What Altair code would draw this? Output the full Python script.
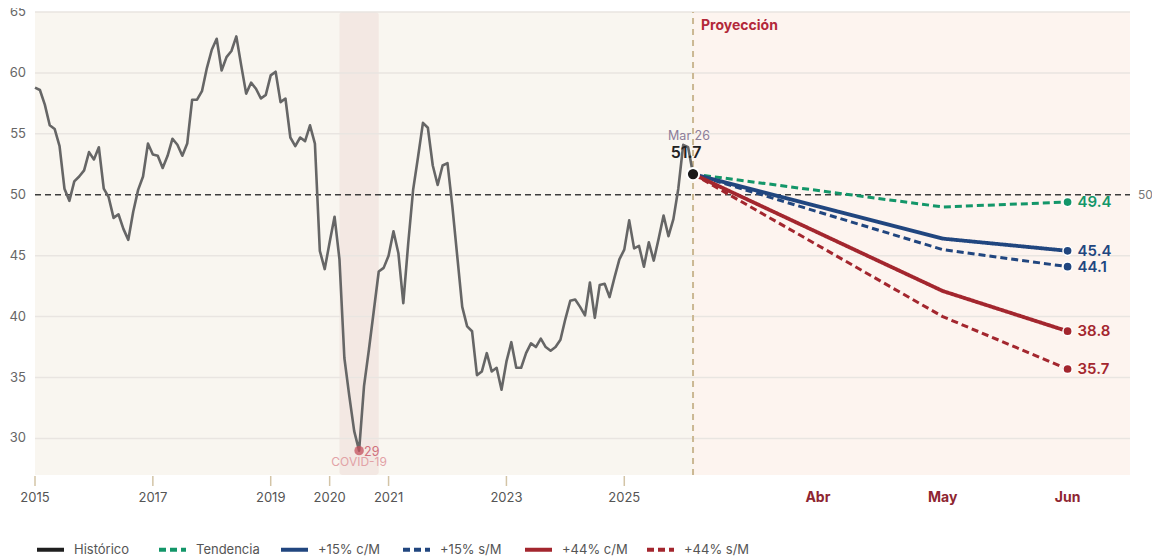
import altair as alt
import pandas as pd

# ---------------- data ----------------
FIRST_YEAR = 2015
# monthly index, Jan 2015 .. Mar 2026
hist_values = [
    58.8, 58.6, 57.4, 55.7, 55.4, 54.0, 50.5, 49.5, 51.1, 51.5, 52.0, 53.5,   # 2015
    52.9, 53.9, 50.5, 49.8, 48.1, 48.4, 47.2, 46.3, 48.6, 50.4, 51.5, 54.2,   # 2016
    53.3, 53.2, 52.2, 53.2, 54.6, 54.1, 53.2, 54.2, 57.8, 57.8, 58.5, 60.4,   # 2017
    61.9, 62.8, 60.2, 61.3, 61.8, 63.0, 60.6, 58.3, 59.2, 58.7, 57.9, 58.2,   # 2018
    59.8, 60.1, 57.6, 57.9, 54.7, 54.0, 54.7, 54.4, 55.7, 54.2, 45.4, 43.9,   # 2019
    46.1, 48.2, 44.7, 36.6, 33.5, 30.6, 29.0, 34.3, 37.3, 40.5, 43.7, 44.0,   # 2020
    45.0, 47.0, 45.2, 41.1, 46.0, 50.4, 53.1, 55.9, 55.5, 52.4, 50.8, 52.4,   # 2021
    52.6, 49.0, 44.9, 40.8, 39.2, 38.8, 35.2, 35.5, 37.0, 35.5, 35.8, 34.0,   # 2022
    36.3, 37.9, 35.8, 35.8, 37.0, 37.8, 37.5, 38.2, 37.5, 37.2, 37.5, 38.1,   # 2023
    39.8, 41.3, 41.4, 40.8, 40.1, 42.8, 39.9, 42.6, 42.7, 41.6, 43.2, 44.7,   # 2024
    45.5, 47.9, 45.6, 45.8, 44.1, 46.1, 44.6, 46.4, 48.3, 46.6, 48.0, 50.5,   # 2025
    54.1, 53.9, 51.7,                                                         # 2026
]
last_tag = "Mar 26"

proj_series = ["Tendencia", "+15% c/M", "+15% s/M", "+44% c/M", "+44% s/M"]
proj_month_names = ["Mar", "Abr", "May", "Jun"]
proj_month_idx = [0, 2, 3]          # months (after Mar 26) that carry values
proj_may = [49.0, 46.4, 45.5, 42.1, 40.0]
proj_jun = [49.4, 45.4, 44.1, 38.8, 35.7]

series_names = ["Histórico"] + proj_series
series_colors = ["#1f1f1f", "#139669", "#21467f", "#21467f", "#a3262e", "#a3262e"]
series_dashed = [False, True, False, True, False, True]

axis_years = [2015, 2017, 2019, 2020, 2021, 2023, 2025]
y_ticks = [30, 35, 40, 45, 50, 55, 60, 65]
Y_MIN, Y_MAX = 27, 65
THRESHOLD = 50
covid_from = (2020, 3)
covid_to = (2020, 11)
covid_label = "COVID-19"
proj_label = "Proyección"

# ---------------- x scale helpers ----------------
PROJ_MONTH = 125 / 59        # one projection month, in historical-year units
n = len(hist_values)
t_last = (n - 1) / 12
X_MAX = t_last + 3.5 * PROJ_MONTH


def t_of(year, month):
    return (year - FIRST_YEAR) + (month - 1) / 12


def t_proj(k):
    return t_last + k * PROJ_MONTH


hist_df = pd.DataFrame({"t": [i / 12 for i in range(n)], "v": hist_values})
last_v = hist_values[-1]

rows = []
for s, vm, vj in zip(proj_series, proj_may, proj_jun):
    for k, v in zip(proj_month_idx, [last_v, vm, vj]):
        rows.append({"s": s, "t": t_proj(k), "v": v})
proj_df = pd.DataFrame(rows)
dashed_set = [s for s, d in zip(series_names, series_dashed) if d]
solid_df = proj_df[~proj_df["s"].isin(dashed_set)]
dash_df = proj_df[proj_df["s"].isin(dashed_set)]
end_df = pd.DataFrame({"s": proj_series, "t": [t_proj(3)] * len(proj_series), "v": proj_jun})
end_df["lab"] = end_df["v"].map(lambda x: f"{x:.1f}")

month_df = pd.DataFrame({"t": [t_proj(k) for k in (1, 2, 3)], "m": proj_month_names[1:]})
year_df = pd.DataFrame({"t": [t_of(y, 1) for y in axis_years], "m": [str(y) for y in axis_years]})
ytick_df = pd.DataFrame({"v": y_ticks, "lab": [str(v) for v in y_ticks]})

imin = min(range(n), key=lambda i: hist_values[i])
covid_df = pd.DataFrame({"t": [imin / 12], "v": [hist_values[imin]],
                         "lab": [f"{hist_values[imin]:g}"], "name": [covid_label]})
last_df = pd.DataFrame({"t": [t_last], "v": [last_v], "tag": [last_tag], "lab": [f"{last_v:.1f}"]})

FONT = "Inter"
xscale = alt.Scale(domain=[0, X_MAX], nice=False, zero=False)
yscale = alt.Scale(domain=[Y_MIN, Y_MAX], nice=False, zero=False)


def X(field="t"):
    return alt.X(field, type="quantitative", scale=xscale, axis=None)


def Y(field="v"):
    return alt.Y(field, type="quantitative", scale=yscale, axis=None)


def XD(val):
    return alt.X(datum=val, type="quantitative", scale=xscale, axis=None)


def YD(val):
    return alt.Y(datum=val, type="quantitative", scale=yscale, axis=None)


one = pd.DataFrame({"a": [0]})

# backgrounds
bg_hist = alt.Chart(one).mark_rect(color="#f9f6f0").encode(
    x=XD(0), x2=alt.X2(datum=t_last), y=YD(Y_MIN), y2=alt.Y2(datum=Y_MAX))
bg_proj = alt.Chart(one).mark_rect(color="#fdf4ef").encode(
    x=XD(t_last), x2=alt.X2(datum=X_MAX), y=YD(Y_MIN), y2=alt.Y2(datum=Y_MAX))
bg_covid = alt.Chart(one).mark_rect(color="#f3e8e3", cornerRadius=3).encode(
    x=XD(t_of(*covid_from)), x2=alt.X2(datum=t_of(*covid_to)), y=YD(Y_MIN), y2=alt.Y2(datum=Y_MAX))

# axis pieces (grid, labels, ticks)
grid_df = ytick_df[ytick_df["v"] != THRESHOLD]
grid = alt.Chart(grid_df).mark_rule(color="#e9e5e1", strokeWidth=1.5).encode(
    y=Y("v"), x=XD(0), x2=alt.X2(datum=X_MAX))
ylabels = alt.Chart(ytick_df).mark_text(align="right", baseline="middle", dx=-9, fontSize=13,
                                        font=FONT, color="#666666").encode(
    y=Y("v"), x=XD(0), text="lab:N")
xticks = alt.Chart(year_df).mark_tick(orient="vertical", size=10, thickness=1.5, color="#d3c4a6",
                                      yOffset=6, opacity=1).encode(x=X(), y=YD(Y_MIN))
xlabels = alt.Chart(year_df).mark_text(baseline="middle", dy=23, fontSize=13, font=FONT,
                                       color="#555555").encode(x=X(), y=YD(Y_MIN), text="m:N")
month_txt = alt.Chart(month_df).mark_text(baseline="middle", dy=23, fontSize=14, fontWeight="bold",
                                          font=FONT, color="#8e2531").encode(
    x=X(), y=YD(Y_MIN), text="m:N")

thr = alt.Chart(one).mark_rule(color="#3d3d3d", strokeDash=[6, 4], strokeWidth=1.5).encode(
    y=YD(THRESHOLD), x=XD(0), x2=alt.X2(datum=X_MAX))
thr_lab = alt.Chart(one).mark_text(align="left", dx=8, fontSize=12, font=FONT, color="#777777").encode(
    y=YD(THRESHOLD), x=XD(X_MAX), text=alt.value(str(THRESHOLD)))
vline = alt.Chart(one).mark_rule(color="#cbb893", strokeDash=[6, 5], strokeWidth=2).encode(
    x=XD(t_last), y=YD(Y_MIN), y2=alt.Y2(datum=Y_MAX))
proj_text = alt.Chart(one).mark_text(align="left", baseline="middle", dx=8, dy=14, fontSize=14,
                                     fontWeight="bold", font=FONT, color="#b3283a").encode(
    x=XD(t_last), y=YD(Y_MAX), text=alt.value(proj_label))

hist_line = alt.Chart(hist_df).mark_line(color="#666666", strokeWidth=2.6, strokeJoin="round").encode(
    x=X(), y=Y())

leg = alt.Legend(title=None, orient="none", legendX=0, legendY=522, direction="horizontal",
                 columns=6, gridAlign="all", columnPadding=11, symbolType="stroke",
                 symbolSize=729, symbolStrokeWidth=4, labelFont=FONT, labelFontSize=13,
                 labelColor="#555555", labelOffset=8, padding=0)
color_scale = alt.Scale(domain=series_names, range=series_colors)
dash_scale = alt.Scale(domain=series_names,
                       range=[[7, 4] if d else [1, 0] for d in series_dashed])


def proj_layer(df, width):
    return alt.Chart(df).mark_line(strokeWidth=width, strokeJoin="round").encode(
        x=X(), y=Y(),
        color=alt.Color("s:N", scale=color_scale, legend=leg, sort=series_names),
        strokeDash=alt.StrokeDash("s:N", scale=dash_scale, legend=leg, sort=series_names),
        detail="s:N",
    )


dash_lines = proj_layer(dash_df, 3)
solid_lines = proj_layer(solid_df, 3.8)

end_pts = alt.Chart(end_df).mark_point(filled=True, size=85, opacity=1, stroke="white",
                                       strokeWidth=1.5).encode(
    x=X(), y=Y(), fill=alt.Fill("s:N", scale=color_scale, legend=None))
end_txt = alt.Chart(end_df).mark_text(align="left", dx=10, fontSize=15, fontWeight=600,
                                      font=FONT).encode(
    x=X(), y=Y(), text="lab:N", color=alt.Color("s:N", scale=color_scale, legend=None))

last_pt = alt.Chart(last_df).mark_point(filled=True, size=150, color="#1a1a1a", opacity=1,
                                        stroke="white", strokeWidth=2).encode(x=X(), y=Y())
last_tag_t = alt.Chart(last_df).mark_text(dx=-4, dy=-38, fontSize=12.5, font=FONT,
                                          color="#8c7d99").encode(x=X(), y=Y(), text="tag:N")
last_val_t = alt.Chart(last_df).mark_text(dx=-7, dy=-21, fontSize=16, fontWeight=600, font=FONT,
                                          color="#222222").encode(x=X(), y=Y(), text="lab:N")

covid_pt = alt.Chart(covid_df).mark_point(filled=True, size=90, color="#c4505c", opacity=0.75).encode(
    x=X(), y=Y())
covid_v = alt.Chart(covid_df).mark_text(align="left", dx=5, dy=1, fontSize=12.5, font=FONT,
                                        color="#d0707c").encode(x=X(), y=Y(), text="lab:N")
covid_n = alt.Chart(covid_df).mark_text(dy=11, fontSize=12, font=FONT,
                                        color="#e2a2a6").encode(x=X(), y=Y(), text="name:N")

chart = alt.layer(
    bg_hist, bg_proj, bg_covid, grid, ylabels, xticks, xlabels, month_txt,
    thr, thr_lab, vline, proj_text,
    hist_line, dash_lines, solid_lines, end_pts, end_txt,
    covid_pt, covid_v, covid_n, last_pt, last_tag_t, last_val_t,
).properties(
    width=1095, height=463,
    autosize=alt.AutoSizeParams(type="none"),
    padding={"left": 27, "top": 4, "right": 22, "bottom": 85},
    background="white",
).configure_view(stroke=None)

chart.save("out.html", embed_options={"renderer": "svg", "actions": False})
